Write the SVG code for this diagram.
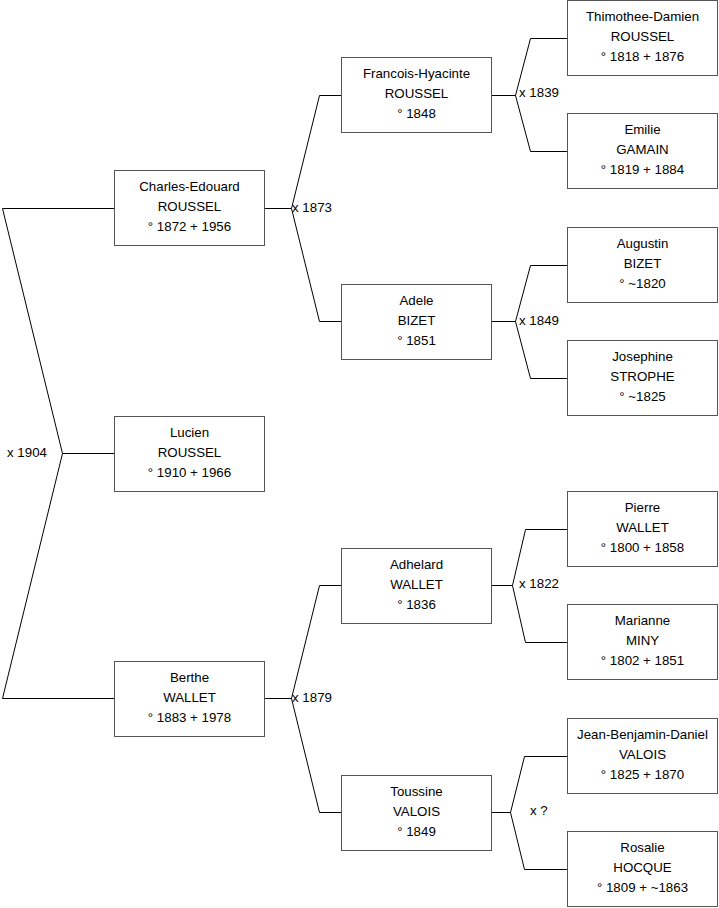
<svg xmlns="http://www.w3.org/2000/svg" width="719" height="908" viewBox="0 0 719 908">
<style>
.box{fill:#fff;stroke:#555;stroke-width:1}
.t{font-family:"Liberation Sans",Arial,sans-serif;font-size:13.3px;fill:#000;text-anchor:middle}
.lbl{font-family:"Liberation Sans",Arial,sans-serif;font-size:13.3px;fill:#000}
.c{fill:none;stroke:#000;stroke-width:1}
</style>
<rect width="719" height="908" fill="#fff"/>
<g id="connectors">
<polyline class="c" points="114,208.5 2.5,208.5 62.5,453.5 2.5,698.5 114,698.5"/>
<line class="c" x1="62.5" y1="453.5" x2="114" y2="453.5"/>
<polyline class="c" points="265,208.5 291.5,208.5"/>
<polyline class="c" points="341,95.5 319.5,95.5 291.5,208.5 319.5,321.5 341,321.5"/>
<polyline class="c" points="492,95.5 515.5,95.5"/>
<polyline class="c" points="567,38.5 530.5,38.5 515.5,95.5 530.5,151.5 567,151.5"/>
<polyline class="c" points="492,321.5 515.5,321.5"/>
<polyline class="c" points="567,265.5 530.5,265.5 515.5,321.5 530.5,378.5 567,378.5"/>
<polyline class="c" points="265,698.5 291.5,698.5"/>
<polyline class="c" points="341,585.5 319.5,585.5 291.5,698.5 319.5,812.5 341,812.5"/>
<polyline class="c" points="492,585.5 512.5,585.5"/>
<polyline class="c" points="567,529.5 525.5,529.5 512.5,585.5 525.5,642.5 567,642.5"/>
<polyline class="c" points="492,812.5 510.5,812.5"/>
<polyline class="c" points="567,756.5 524.5,756.5 510.5,812.5 524.5,869.5 567,869.5"/>
<text class="lbl" x="7" y="457">x 1904</text>
<text class="lbl" x="292" y="212">x 1873</text>
<text class="lbl" x="292" y="702">x 1879</text>
<text class="lbl" x="519" y="97">x 1839</text>
<text class="lbl" x="519" y="325">x 1849</text>
<text class="lbl" x="519" y="588">x 1822</text>
<text class="lbl" x="530" y="815">x ?</text>
</g>
<g id="charles"><rect class="box" x="114.5" y="170.5" width="150" height="75"/><text class="t"><tspan x="189.5" y="190.5">Charles-Edouard</tspan><tspan x="189.5" y="211">ROUSSEL</tspan><tspan x="189.5" y="231">° 1872 + 1956</tspan></text></g>
<g id="lucien"><rect class="box" x="114.5" y="416.5" width="150" height="75"/><text class="t"><tspan x="189.5" y="436.5">Lucien</tspan><tspan x="189.5" y="457">ROUSSEL</tspan><tspan x="189.5" y="477">° 1910 + 1966</tspan></text></g>
<g id="berthe"><rect class="box" x="114.5" y="661.5" width="150" height="75"/><text class="t"><tspan x="189.5" y="681.5">Berthe</tspan><tspan x="189.5" y="702">WALLET</tspan><tspan x="189.5" y="722">° 1883 + 1978</tspan></text></g>
<g id="francois"><rect class="box" x="341.5" y="57.5" width="150" height="75"/><text class="t"><tspan x="416.5" y="77.5">Francois-Hyacinte</tspan><tspan x="416.5" y="98">ROUSSEL</tspan><tspan x="416.5" y="118">° 1848</tspan></text></g>
<g id="adele"><rect class="box" x="341.5" y="284.5" width="150" height="75"/><text class="t"><tspan x="416.5" y="304.5">Adele</tspan><tspan x="416.5" y="325">BIZET</tspan><tspan x="416.5" y="345">° 1851</tspan></text></g>
<g id="adhelard"><rect class="box" x="341.5" y="548.5" width="150" height="75"/><text class="t"><tspan x="416.5" y="568.5">Adhelard</tspan><tspan x="416.5" y="589">WALLET</tspan><tspan x="416.5" y="609">° 1836</tspan></text></g>
<g id="toussine"><rect class="box" x="341.5" y="775.5" width="150" height="75"/><text class="t"><tspan x="416.5" y="795.5">Toussine</tspan><tspan x="416.5" y="816">VALOIS</tspan><tspan x="416.5" y="836">° 1849</tspan></text></g>
<g id="thimothee"><rect class="box" x="567.5" y="0.5" width="150" height="75"/><text class="t"><tspan x="642.5" y="20.5">Thimothee-Damien</tspan><tspan x="642.5" y="41">ROUSSEL</tspan><tspan x="642.5" y="61">° 1818 + 1876</tspan></text></g>
<g id="emilie"><rect class="box" x="567.5" y="113.5" width="150" height="75"/><text class="t"><tspan x="642.5" y="133.5">Emilie</tspan><tspan x="642.5" y="154">GAMAIN</tspan><tspan x="642.5" y="174">° 1819 + 1884</tspan></text></g>
<g id="augustin"><rect class="box" x="567.5" y="227.5" width="150" height="75"/><text class="t"><tspan x="642.5" y="247.5">Augustin</tspan><tspan x="642.5" y="268">BIZET</tspan><tspan x="642.5" y="288">° ~1820</tspan></text></g>
<g id="josephine"><rect class="box" x="567.5" y="340.5" width="150" height="75"/><text class="t"><tspan x="642.5" y="360.5">Josephine</tspan><tspan x="642.5" y="381">STROPHE</tspan><tspan x="642.5" y="401">° ~1825</tspan></text></g>
<g id="pierre"><rect class="box" x="567.5" y="491.5" width="150" height="75"/><text class="t"><tspan x="642.5" y="511.5">Pierre</tspan><tspan x="642.5" y="532">WALLET</tspan><tspan x="642.5" y="552">° 1800 + 1858</tspan></text></g>
<g id="marianne"><rect class="box" x="567.5" y="604.5" width="150" height="75"/><text class="t"><tspan x="642.5" y="624.5">Marianne</tspan><tspan x="642.5" y="645">MINY</tspan><tspan x="642.5" y="665">° 1802 + 1851</tspan></text></g>
<g id="jean"><rect class="box" x="567.5" y="718.5" width="150" height="75"/><text class="t"><tspan x="642.5" y="738.5">Jean-Benjamin-Daniel</tspan><tspan x="642.5" y="759">VALOIS</tspan><tspan x="642.5" y="779">° 1825 + 1870</tspan></text></g>
<g id="rosalie"><rect class="box" x="567.5" y="831.5" width="150" height="75"/><text class="t"><tspan x="642.5" y="851.5">Rosalie</tspan><tspan x="642.5" y="872">HOCQUE</tspan><tspan x="642.5" y="892">° 1809 + ~1863</tspan></text></g>
</svg>
